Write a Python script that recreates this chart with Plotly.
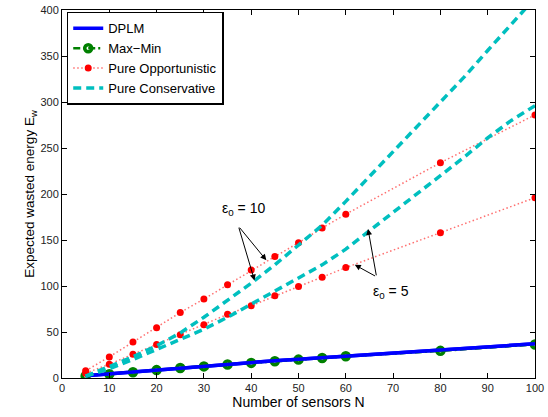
import plotly.graph_objects as go

# Data
N = [5, 10, 15, 20, 25, 30, 35, 40, 45, 50, 55, 60, 80, 100]
dplm = [2.5, 4.6, 6.8, 9.0, 11.2, 13.2, 15.2, 17.0, 18.8, 20.5, 22.2, 23.9, 30.2, 37.2]
maxmin = [2.3, 4.2, 6.3, 8.6, 10.9, 12.6, 14.7, 16.4, 18.2, 20.0, 21.8, 23.6, 29.5, 36.5]
opp_eps10 = [7.8, 22.9, 39, 54.7, 71.2, 85.8, 101.3, 117.4, 132, 147, 163, 178, 234, 286]
opp_eps5 = [5.2, 15, 25.7, 36.5, 47, 58, 69.2, 78.6, 89.3, 99.4, 109.6, 120, 158, 196]

N_cons = [5, 10, 15, 20, 25, 30, 35, 40, 45, 50, 55, 60, 65, 70, 75, 80, 85, 90, 95, 100]
cons_eps10 = [2, 12, 23, 35, 49, 66, 84, 103, 123, 144, 166, 192, 219, 246, 272, 299, 327, 356, 385, 413]
cons_eps5 = [2, 10, 20, 31, 42, 53, 66, 80, 94, 108, 123, 140, 160, 180, 199, 219, 240, 261, 280, 296]

series_names = ["DPLM", "Max\u2212Min", "Pure Opportunistic", "Pure Conservative"]

x_ticks = [0, 10, 20, 30, 40, 50, 60, 70, 80, 90, 100]
y_ticks = [0, 50, 100, 150, 200, 250, 300, 350, 400]

BLUE = "#0000FF"
GREEN = "#008000"
RED = "#FF0000"
PINK = "#FF6F6F"
CYAN = "#00BFBF"

fig = go.Figure()

fig.add_trace(go.Scatter(x=N, y=dplm, mode="lines", name=series_names[0],
                         line=dict(color=BLUE, width=3.5), legendrank=1))
fig.add_trace(go.Scatter(x=N, y=maxmin, mode="lines+markers", name=series_names[1],
                         line=dict(color=GREEN, width=2.5, dash="7px,3px,2px,3px"),
                         marker=dict(symbol="circle-open", size=7, color=GREEN,
                                     line=dict(width=3.5, color=GREEN)),
                         legendrank=2))
# DPLM drawn again on top for visual stacking
fig.add_trace(go.Scatter(x=N, y=dplm, mode="lines", showlegend=False,
                         line=dict(color=BLUE, width=3.5), hoverinfo="skip"))

fig.add_trace(go.Scatter(x=N, y=opp_eps10, mode="lines+markers", name=series_names[2],
                         line=dict(color=PINK, width=1.5, dash="1.5px,2.5px"),
                         marker=dict(symbol="circle", size=7, color=RED),
                         legendrank=3))
fig.add_trace(go.Scatter(x=N, y=opp_eps5, mode="lines+markers", showlegend=False,
                         line=dict(color=PINK, width=1.5, dash="1.5px,2.5px"),
                         marker=dict(symbol="circle", size=7, color=RED)))

fig.add_trace(go.Scatter(x=N_cons, y=cons_eps10, mode="lines", name=series_names[3],
                         line=dict(color=CYAN, width=3.5, dash="8px,5px"),
                         legendrank=4))
fig.add_trace(go.Scatter(x=N_cons, y=cons_eps5, mode="lines", showlegend=False,
                         line=dict(color=CYAN, width=3.5, dash="8px,5px")))

# Annotations: epsilon labels with arrows
def arrow(ax, ay, x, y):
    fig.add_annotation(x=x, y=y, ax=ax, ay=ay, xref="x", yref="y", axref="x", ayref="y",
                       text="", showarrow=True, arrowhead=2, arrowsize=1.2,
                       arrowwidth=1, arrowcolor="black")

arrow(37.3, 165, 43.2, 128)
arrow(37.3, 165, 40.7, 106)
arrow(66.5, 110, 64.7, 162)
arrow(66.5, 110, 61.9, 123)

fig.add_annotation(x=38.4, y=184, xref="x", yref="y", text="\u03b5<sub>0</sub> = 10",
                   showarrow=False, font=dict(size=14, color="black"))
fig.add_annotation(x=69.6, y=93, xref="x", yref="y", text="\u03b5<sub>0</sub> = 5",
                   showarrow=False, font=dict(size=14, color="black"))

axis_common = dict(showline=True, linecolor="black", linewidth=1, mirror="ticks",
                   ticks="inside", ticklen=5, tickcolor="black", showgrid=False,
                   zeroline=False, tickfont=dict(size=11, color="#222222"),
                   ticklabeloverflow="allow")

fig.update_xaxes(range=[0, 100], tickvals=x_ticks, ticktext=[str(v) for v in x_ticks],
                 title=dict(text="Number of sensors N", font=dict(size=14, color="black"),
                            standoff=1), **axis_common)
fig.update_yaxes(range=[0, 400], tickvals=y_ticks, ticktext=[str(v) for v in y_ticks],
                 title=dict(text="Expected wasted energy E<sub>w</sub>",
                            font=dict(size=13.5, color="black"), standoff=2), **axis_common)

fig.update_layout(
    width=548, height=417,
    margin=dict(l=62, r=9, t=4, b=39),
    paper_bgcolor="white", plot_bgcolor="white",
    font=dict(family="Liberation Sans, Arial, sans-serif", color="black"),
    legend=dict(x=0.01, y=0.995, xanchor="left", yanchor="top",
                bgcolor="white", bordercolor="black", borderwidth=1.5,
                font=dict(size=13, color="black"), tracegroupgap=0,
                itemwidth=30),
    showlegend=True,
)

fig.write_html("out.html")
